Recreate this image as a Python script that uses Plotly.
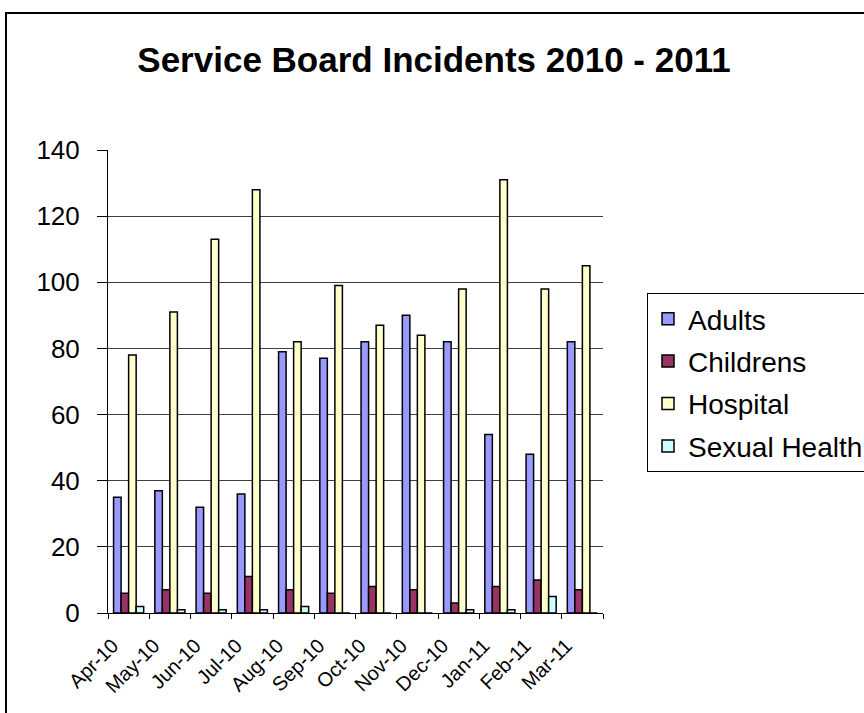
import plotly.graph_objects as go

months = ["Apr-10", "May-10", "Jun-10", "Jul-10", "Aug-10", "Sep-10",
          "Oct-10", "Nov-10", "Dec-10", "Jan-11", "Feb-11", "Mar-11"]
adults = [35, 37, 32, 36, 79, 77, 82, 90, 82, 54, 48, 82]
childrens = [6, 7, 6, 11, 7, 6, 8, 7, 3, 8, 10, 7]
hospital = [78, 91, 113, 128, 82, 99, 87, 84, 98, 131, 98, 105]
sexual_health = [2, 1, 1, 1, 2, 0, 0, 0, 1, 1, 5, 0]

series = [
    ("Adults", adults, "#9999FF"),
    ("Childrens", childrens, "#993366"),
    ("Hospital", hospital, "#FFFFCC"),
    ("Sexual Health", sexual_health, "#CCFFFF"),
]

fig = go.Figure()
for i, (name, vals, col) in enumerate(series):
    fig.add_trace(go.Bar(
        x=months, y=vals, name=name, legendgroup=f"g{i}",
        marker=dict(color=col, line=dict(color="black", width=1.5)),
    ))

W, H = 864, 713
L, R, T, B = 108, 261, 150, 100
pw, ph = W - L - R, H - T - B

def px_x(x):
    return (x - L) / pw

def px_y(y):
    return (H - B - y) / ph

fig.update_layout(
    width=W, height=H,
    margin=dict(l=L, r=R, t=T, b=B, autoexpand=False),
    paper_bgcolor="white", plot_bgcolor="white",
    barmode="group", bargap=0.27, bargroupgap=0,
    font=dict(family="Arial, Liberation Sans, sans-serif", color="black"),
    title=dict(text="<b>Service Board Incidents 2010 - 2011</b>",
               x=434 / W, xref="container", xanchor="center",
               y=1 - 60 / H, yref="container", yanchor="middle",
               font=dict(size=35, color="black")),
    xaxis=dict(
        type="category", tickangle=-45, tickfont=dict(size=20),
        showline=True, linecolor="black", linewidth=1,
        ticks="outside", tickson="boundaries", ticklen=5, tickcolor="black",
        ticklabelshift=-16, ticklabelstandoff=12,
        showgrid=False,
    ),
    yaxis=dict(
        range=[0, 140], dtick=20, tickfont=dict(size=26),
        showline=True, linecolor="black", linewidth=1,
        ticks="outside", ticklen=10, tickcolor="black",
        ticklabelstandoff=12,
        showgrid=True, gridcolor="#404040", gridwidth=1,
        zeroline=False,
    ),
    legend=dict(
        x=px_x(647), y=px_y(293), xanchor="left", yanchor="top",
        font=dict(size=28), bordercolor="black", borderwidth=1,
        bgcolor="white", itemclick=False, tracegroupgap=3,
    ),
    shapes=[dict(
        type="rect", xref="paper", yref="paper",
        x0=px_x(6), x1=px_x(872), y0=px_y(725), y1=px_y(13),
        line=dict(color="black", width=2), layer="below",
    )],
)

fig.write_html("out.html")
